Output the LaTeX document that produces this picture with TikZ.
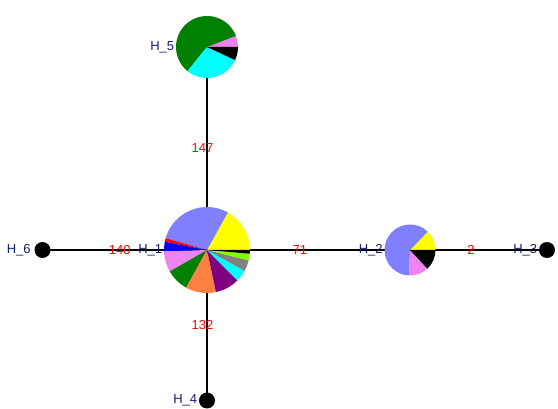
\documentclass[tikz,border=0pt]{standalone}
\usepackage{fontspec}
\setmainfont{Liberation Sans}
\usetikzlibrary{positioning}

\definecolor{hapblue}{RGB}{128,128,255}
\definecolor{hapgreen}{RGB}{0,128,0}
\definecolor{haporange}{RGB}{255,128,64}
\definecolor{happurple}{RGB}{128,0,128}
\definecolor{hapviolet}{RGB}{238,130,238}
\definecolor{haplawn}{RGB}{128,255,0}
\definecolor{hapcyan}{RGB}{0,255,255}
\definecolor{hapyellow}{RGB}{255,255,0}
\definecolor{hapgray}{RGB}{128,128,128}
\definecolor{labblue}{RGB}{20,30,110}

% pie chart on a vertex: node, radius, list of start/end/colour
\newcommand{\hapPie}[3]{%
  \foreach \a/\b/\c in {#3}
    \fill[\c] (#1.center) -- ++(\a:#2) arc[start angle=\a, end angle=\b, radius=#2] -- cycle;}

\begin{document}
\begin{tikzpicture}[
    x=1pt, y=1pt,
    piev/.style={circle, inner sep=0pt},
    dotv/.style={circle, fill=black, inner sep=0pt, minimum size=16pt},
    edge/.style={line width=1.5pt, black},
    elabel/.style={font=\fontsize{13}{15}\selectfont, text=red, inner sep=0pt},
    vlabel/.style={font=\fontsize{13}{15}\selectfont, text=labblue, inner sep=0.5pt},
]
\useasboundingbox (0,0) rectangle (558,-409);

% Vertices
\node[piev, minimum size=86pt] (h1) at (207,-250) {};
\node[piev, minimum size=51pt] (h2) at (410,-250) {};
\node[piev, minimum size=62pt] (h5) at (207,-47) {};
\node[dotv] (h3) at (547,-250) {};
\node[dotv] (h4) at (207,-400.5) {};
\node[dotv] (h6) at (42.5,-250) {};

% Edges with distances
\draw[edge] (h6.center) -- node[elabel, pos=0.47] {140} (h1.center);
\draw[edge] (h1.center) -- node[elabel, pos=0.458] {71} (h2.center);
\draw[edge] (h2.center) -- node[elabel, pos=0.445] {2} (h3.center);
\draw[edge] (h5.center) -- node[elabel, pos=0.5, xshift=-4.5pt] {147} (h1.center);
\draw[edge] (h1.center) -- node[elabel, pos=0.5, xshift=-4.5pt] {132} (h4.center);

% Pies
\hapPie{h1}{43pt}{0/61/hapyellow, 61/164/hapblue, 164/169/red, 169/182/blue,
  182/210/hapviolet, 210/241/hapgreen, 241/282/haporange, 282/315/happurple,
  315/331/hapcyan, 331/346/hapgray, 346/355/haplawn, 355/360/black}
\hapPie{h2}{25.5pt}{0/46/hapyellow, 46/268/hapblue, 268/313/hapviolet, 313/360/black}
\hapPie{h5}{31pt}{0/21/hapviolet, 21/231/hapgreen, 231/335/hapcyan, 335/360/black}

% Vertex labels
\node[vlabel, left=1pt of h1] (l1) {H\_1};
\node[vlabel, left=1pt of h2] (l2) {H\_2};
\node[vlabel, left=1pt of h3] (l3) {H\_3};
\node[vlabel, left=1pt of h4] (l4) {H\_4};
\node[vlabel, left=1pt of h5] (l5) {H\_5};
\node[vlabel, left=3pt of h6] (l6) {H\_6};

\end{tikzpicture}
\end{document}
